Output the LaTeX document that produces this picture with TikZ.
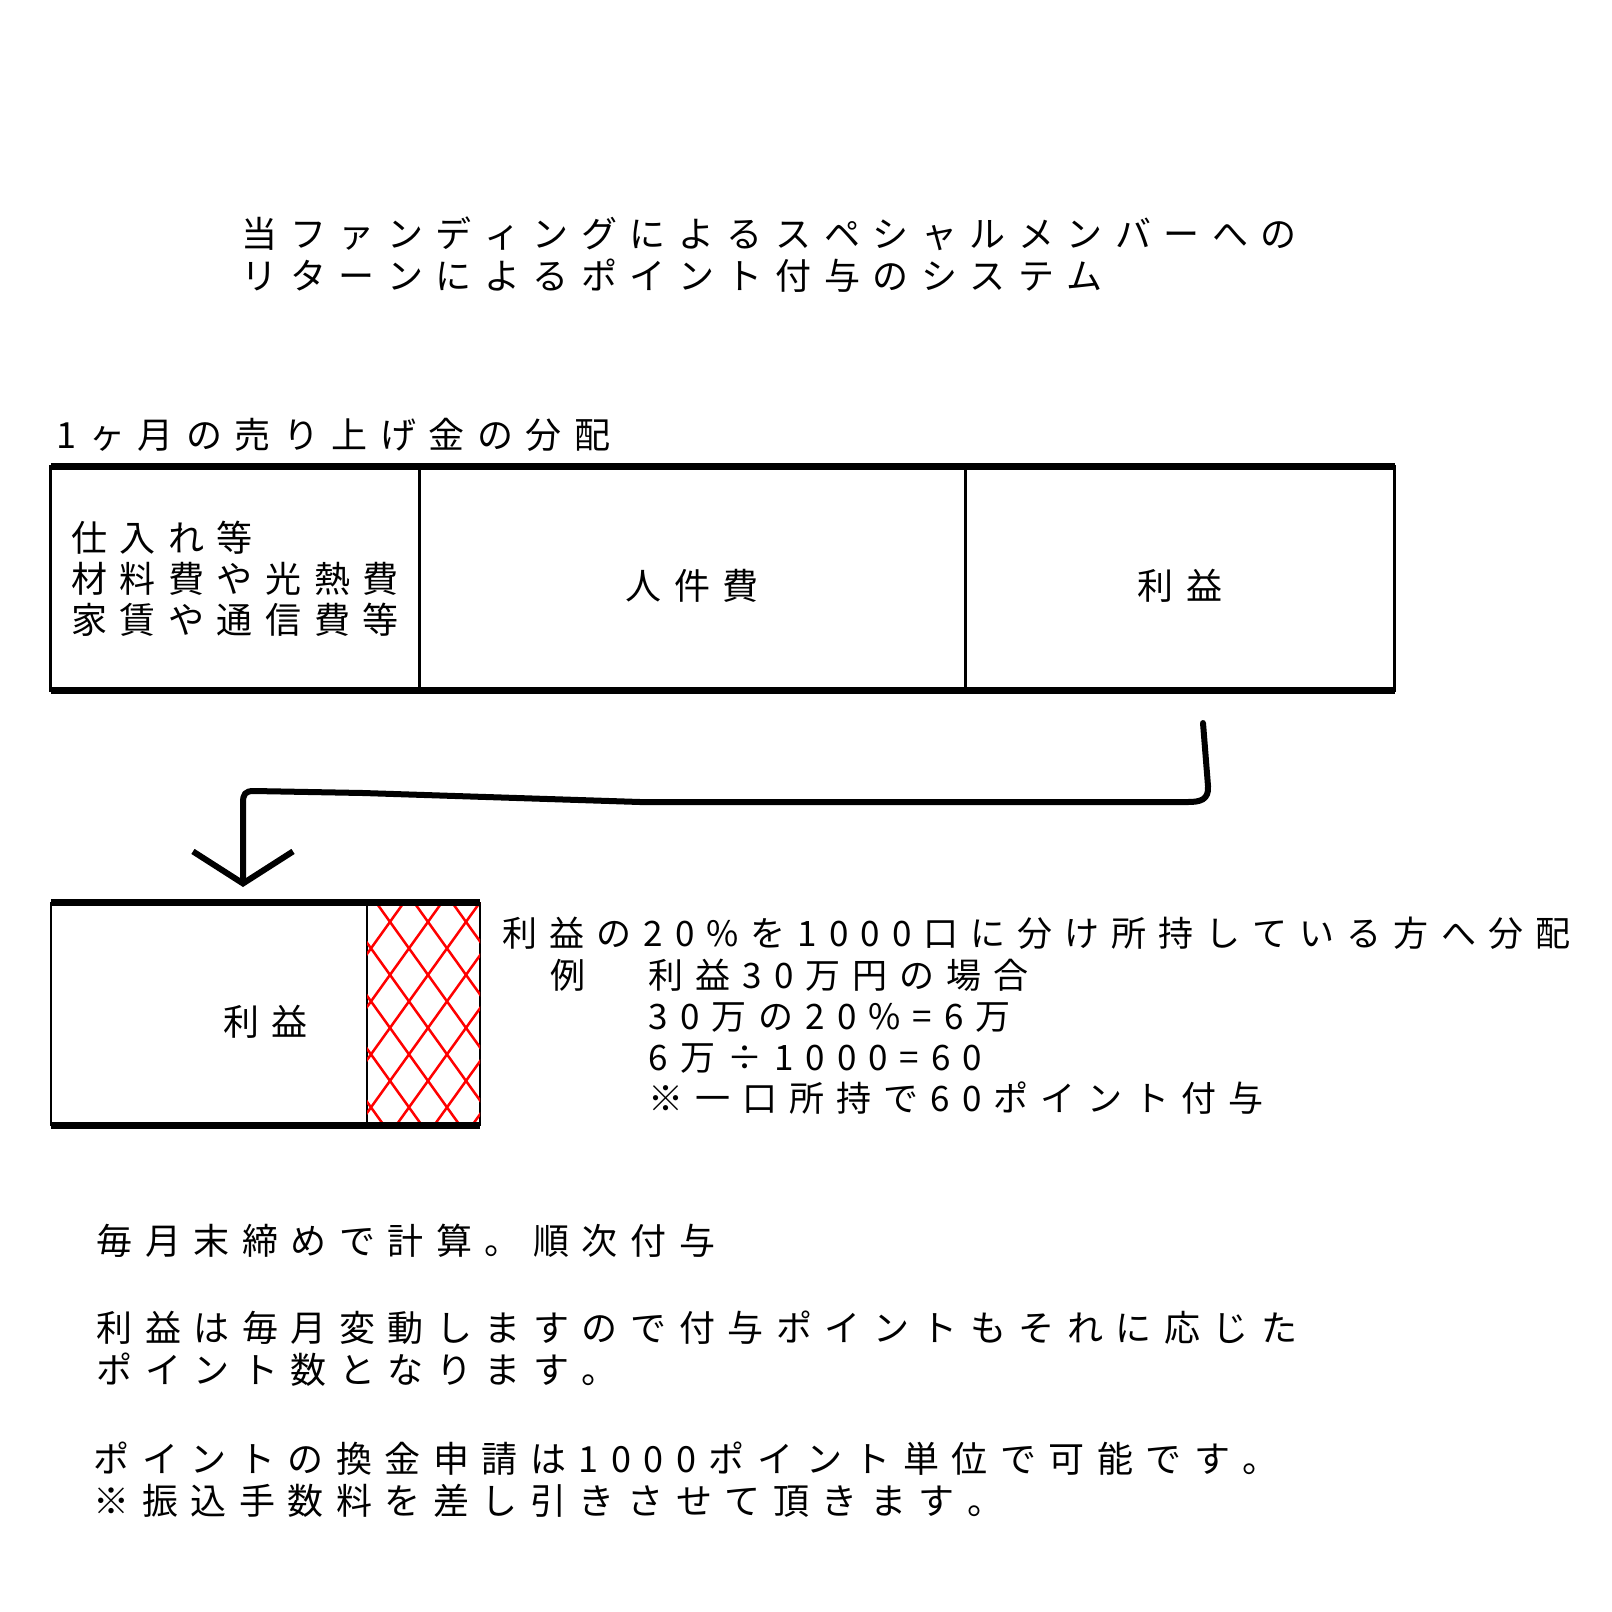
\documentclass[tikz,border=0pt]{standalone}
\usepackage{fontspec}
\setmainfont{Noto Sans CJK JP}
\usetikzlibrary{positioning, arrows.meta}

% letters set apart like the hand lettering
\newcommand\spaced[2][0.125cm]{\def\spacedgap{\hskip#1\relax}\spacedstep#2\relax\unskip}
\def\spacedstep#1{\ifx\relax#1\else#1\spacedgap\expandafter\spacedstep\fi}

\tikzset{
  cell/.style={draw, line width=0.03cm, minimum height=2.23cm, inner sep=0pt, outer sep=0pt,
    align=left, font=\fontsize{0.36cm}{0.41cm}\selectfont},
  rule/.style={line width=0.07cm},
  words/.style={anchor=west, inner sep=0pt, align=left, font=\fontsize{0.36cm}{0.42cm}\selectfont},
  small words/.style={words, font=\fontsize{0.35cm}{0.41cm}\selectfont},
  hatch/.style={red, line width=0.025cm, line cap=round},
  bend line/.style={line width=0.06cm, line cap=round, line join=round}
}

\begin{document}
\begin{tikzpicture}[x=0.01cm, y=-0.01cm]
	\fill[white] (0,0) rectangle (1612,1612);
	\useasboundingbox (0,0) rectangle (1612,1612);
	
	% heading
	\node[words] (head) at (241,255)
	{\spaced{当ファンディングによるスペシャルメンバーへの}\\\spaced{リターンによるポイント付与のシステム}};
	\node[words] (sales) at (56,435) {\spaced{1ヶ月の売り上げ金の分配}};
	
	% monthly split
	\node[cell, minimum width=3.68cm] (cost) at (235,578.5)
	{\spaced{仕入れ等}\\\spaced{材料費や光熱費}\\\spaced{家賃や通信費等}};
	\node[cell, text height=0.45cm, minimum width=5.46cm, right=0pt of cost] (labor) {\spaced{人件費}};
	\node[cell, text height=0.45cm, minimum width=4.29cm, right=0pt of labor] (profit) {\spaced{利益}};
	\draw[rule] (cost.north west) -- (profit.north east);
	\draw[rule] (cost.south west) -- (profit.south east);
	
	% arrow down to the share
	\coordinate (from) at (1203,723);
	\coordinate (to) at (243,887);
	\draw[bend line, -{Straight Barb[length=0.32cm, width=1cm]}] (from) -- (1208,786)
	.. controls (1209,800) and (1200,802) .. (1188,802) -- (640,802) -- (363,793) -- (254,791)
	.. controls (245,791) and (243,794) .. (243,803) -- (to);
	
	% profit share
	\node[cell, text height=0.46cm, line width=0.025cm, minimum width=4.29cm, minimum height=2.22cm] (gain) at (265.5,1014) {\spaced{利益}};
	\node[draw, line width=0.012cm, minimum width=1.13cm, minimum height=2.22cm, inner sep=0pt, outer sep=0pt, anchor=east] (cut) at (gain.east) {};
	\begin{scope}
		\clip (cut.south west) rectangle (cut.north east);
		\foreach \k in {-4,...,2}
		\draw[hatch] (360+38*\k,880) -- ++(190,265);
		\foreach \k in {0,...,6}
		\draw[hatch] (420+38*\k,880) -- ++(-190,265);
	\end{scope}
	\draw[rule] (gain.north west) -- (gain.north east);
	\draw[rule] (gain.south west) -- (gain.south east);
	
	% the example
	\node[small words] (share) at (502,933) {\spaced[0.12cm]{利益の20\%を1000口に分け所持している方へ分配}};
	\node[small words, anchor=center] (ex) at (568,975) {例};
	\node[small words] (case) at (648,1036.5)
	{\spaced[0.12cm]{利益30万円の場合}\\\spaced[0.12cm]{30万の20\%=6万}\\\spaced[0.12cm]{6万÷1000=60}\\\spaced[0.12cm]{※一口所持で60ポイント付与}};
	
	% notes
	\node[words] (close) at (96,1241) {\spaced{毎月末締めで計算。順次付与}};
	\node[words] (vary) at (96,1348.5)
	{\spaced{利益は毎月変動しますので付与ポイントもそれに応じた}\\\spaced{ポイント数となります。}};
	\node[words] (cash) at (93,1479.5)
	{\spaced{ポイントの換金申請は1000ポイント単位で可能です。}\\\spaced{※振込手数料を差し引きさせて頂きます。}};
\end{tikzpicture}
\end{document}
